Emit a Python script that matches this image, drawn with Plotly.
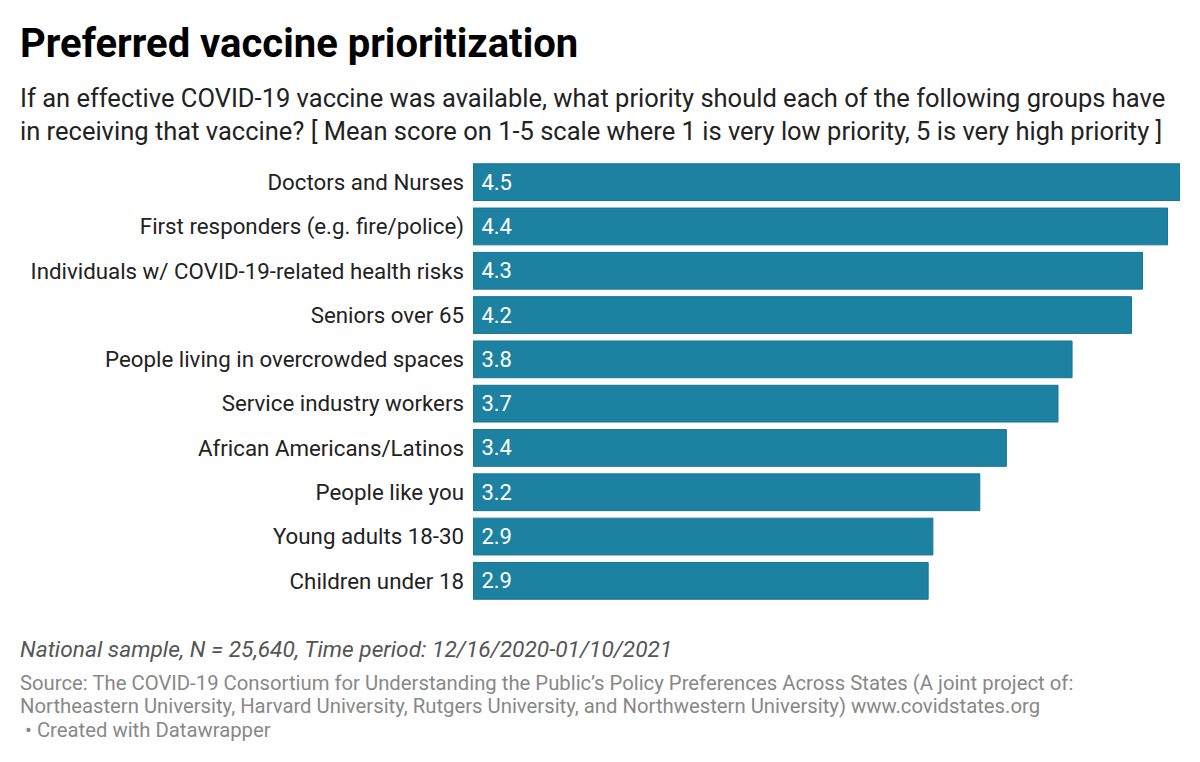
import plotly.graph_objects as go

categories = [
    "Doctors and Nurses",
    "First responders (e.g. fire/police)",
    "Individuals w/ COVID-19-related health risks",
    "Seniors over 65",
    "People living in overcrowded spaces",
    "Service industry workers",
    "African Americans/Latinos",
    "People like you",
    "Young adults 18-30",
    "Children under 18",
]
mean_scores = [4.52, 4.44, 4.28, 4.21, 3.83, 3.74, 3.41, 3.24, 2.94, 2.91]

title = "<b>Preferred vaccine prioritization</b>"
subtitle = ("If an effective COVID-19 vaccine was available, what priority should each of the following groups have<br>"
            "in receiving that vaccine? [ Mean score on 1-5 scale where 1 is very low priority, 5 is very high priority ]")
note = "National sample, N = 25,640, Time period: 12/16/2020-01/10/2021"
source_lines = [
    "Source: The COVID-19 Consortium for Understanding the Public’s Policy Preferences Across States (A joint project of:",
    "Northeastern University, Harvard University, Rutgers University, and Northwestern University) www.covidstates.org",
    " • Created with Datawrapper",
]

# page has an 8px body margin; work in screenshot pixels and subtract it
OFF = 8
W, H = 1200 - OFF, 762 - OFF
PLOT_L, PLOT_R, PLOT_T, PLOT_B = 473, 1180, 160, 603  # screenshot px
ML, MR = PLOT_L - OFF, W - (PLOT_R - OFF)
MT, MB = PLOT_T - OFF, H - (PLOT_B - OFF)
PW, PH = PLOT_R - PLOT_L, PLOT_B - PLOT_T

def px_x(px):
    return (px - PLOT_L) / PW

def px_y(py):
    return (PLOT_B - py) / PH

FONT = "Roboto"

fig = go.Figure()
fig.add_trace(go.Bar(
    x=mean_scores,
    y=categories,
    orientation="h",
    marker=dict(color="#1d81a2", line=dict(color="#1a7595", width=1)),
    texttemplate="\u00a0%{x:.1f}",
    textposition="inside",
    insidetextanchor="start",
    textfont=dict(family=FONT, size=22, color="white"),
    hoverinfo="skip",
))

fig.update_layout(
    width=W, height=H,
    margin=dict(l=ML, r=MR, t=MT, b=MB),
    paper_bgcolor="white",
    plot_bgcolor="white",
    bargap=0.17,
    showlegend=False,
    font=dict(family=FONT, color="#333333"),
)
fig.update_xaxes(range=[0, max(mean_scores)], visible=False, fixedrange=True)
fig.update_yaxes(
    autorange="reversed",
    showgrid=False, zeroline=False, showline=False,
    ticks="", ticklabelstandoff=8,
    tickfont=dict(family=FONT, size=22.3, color="#222222"),
    automargin=False,
)

annotations = [
    dict(text=title, x=px_x(18), y=px_y(44), font=dict(family=FONT, size=40, color="#000000")),
    dict(text=subtitle, x=px_x(18), y=px_y(115), font=dict(family=FONT, size=25.5, color="#222222")),
    dict(text="<i>" + note + "</i>", x=px_x(18), y=px_y(649), font=dict(family=FONT, size=22.7, color="#555555")),
]
for line, cy in zip(source_lines, [683, 706, 730]):
    annotations.append(dict(text=line, x=px_x(18), y=px_y(cy), font=dict(family=FONT, size=20.3, color="#888888")))
for a in annotations:
    a.update(xref="paper", yref="paper", xanchor="left", yanchor="middle", showarrow=False, align="left")
fig.update_layout(annotations=annotations)

fig.write_html("out.html")
